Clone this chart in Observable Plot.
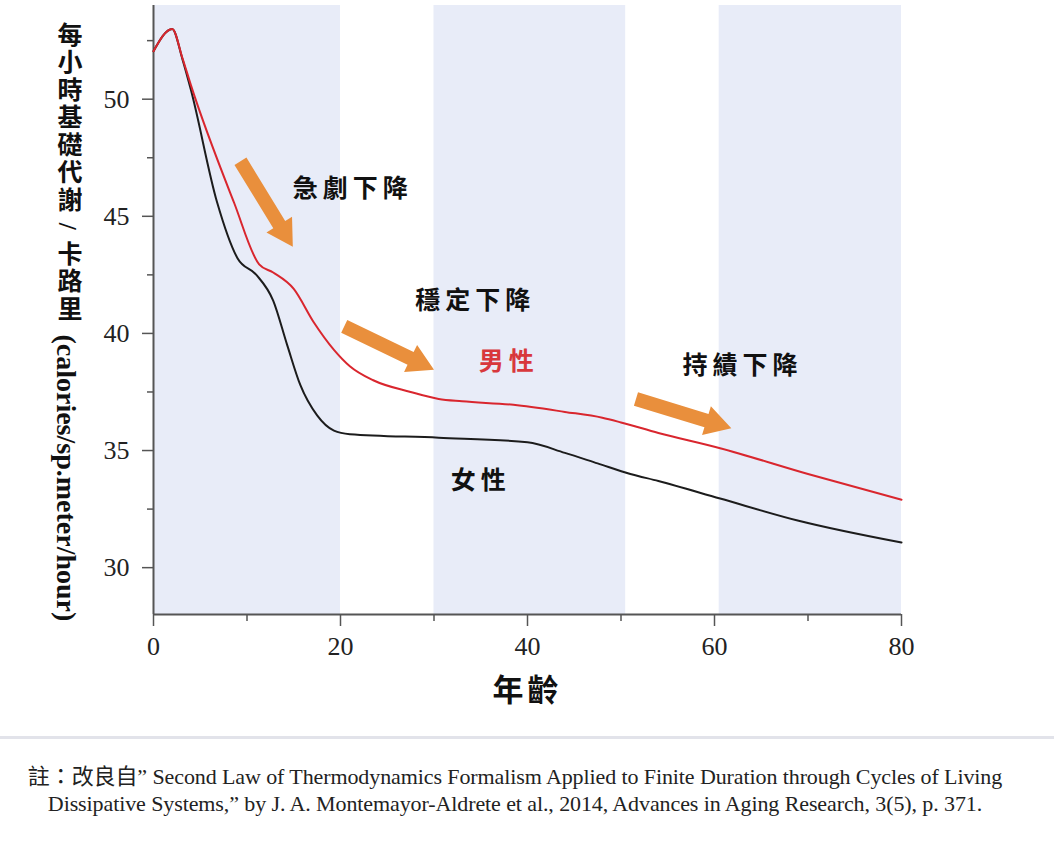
<!DOCTYPE html>
<html>
<head>
<meta charset="utf-8">
<script src="https://cdn.jsdelivr.net/npm/d3@7"></script>
<script src="https://cdn.jsdelivr.net/npm/@observablehq/plot@0.6"></script>
<style>
  html, body { margin: 0; padding: 0; background: #fff; }
  #chart { width: 1054px; }
  #sep { width: 1054px; height: 3px; background: #e2e3ea; }
  #note { width: 1054px; box-sizing: border-box; padding: 24px 24px 0 0; text-align: center;
          font-family: "Liberation Serif", "Noto Sans CJK TC", serif; font-size: 22px; line-height: 27px; color: #222; letter-spacing: -0.1px; }
</style>
</head>
<body>
<div id="chart"></div>
<div id="sep"></div>
<div id="note">註：改良自” Second Law of Thermodynamics Formalism Applied to Finite Duration through Cycles of Living<br>Dissipative Systems,” by J. A. Montemayor-Aldrete et al., 2014, Advances in Aging Research, 3(5), p. 371.</div>
<script>
// ---- data ----
const maleAge   = [0, 2, 3.1, 4, 8.6, 11.3, 12.8, 15, 17.1, 19.3, 21, 23.5, 27.5, 30.5, 33, 38.5, 44, 48, 50, 54, 60.6, 70, 80];
const maleBMR   = [52.05, 53.0, 51.75, 50.6, 45.6, 42.95, 42.6, 41.9, 40.5, 39.3, 38.6, 38.0, 37.5, 37.2, 37.1, 36.95, 36.65, 36.4, 36.2, 35.75, 35.1, 34.0, 32.9];
const femaleAge = [0, 2, 3.1, 4, 6.8, 9, 11, 12.8, 14.3, 15.7, 17.5, 19.3, 21, 30.5, 40, 44, 47.5, 51, 54, 60.6, 69, 80];
const femaleBMR = [52.05, 53.0, 51.7, 50.4, 45.6, 43.2, 42.5, 41.4, 39.5, 37.8, 36.5, 35.85, 35.7, 35.55, 35.35, 34.9, 34.45, 34.0, 33.7, 32.95, 32.0, 31.07];

const bandStart = [0, 30, 60.5];
const bandEnd   = [20, 50.5, 80];

const yMajorTicks = [30, 35, 40, 45, 50];
const yMinorTicks = [32.5, 37.5, 42.5, 47.5, 52.5];
const xMajorTicks = [0, 20, 40, 60, 80];
const xMinorTicks = [10, 30, 50, 70];

const noteText  = ["急劇下降", "穩定下降", "男性", "持績下降", "女性"];
const noteAge   = [21.3, 34.4, 38.0, 63.0, 35.0];
const noteValue = [46.15, 41.37, 38.8, 38.6, 33.7];
const noteColor = ["#111", "#111", "#d8383c", "#111", "#111"];

// arrows: tail (age, value) -> tip (age, value)
const arrowTailAge = [9.3, 20.4, 51.6];
const arrowTailVal = [47.35, 40.3, 37.2];
const arrowTipAge  = [14.9, 30.0, 61.8];
const arrowTipVal  = [43.7, 38.45, 35.95];

const xTitle = "年齡";
const yTitleCJK = "每小時基礎代謝 / 卡路里";
const yTitleEN = "(calories/sp.meter/hour)";

// ---- layout ----
const W = 1054, H = 736, ML = 153, MR = 153, MT = 5, MB = 122;
const xDomain = [0, 80], yDomain = [28, 54];
const kx = (W - ML - MR) / (xDomain[1] - xDomain[0]);
const ky = (H - MT - MB) / (yDomain[1] - yDomain[0]);

const male = maleAge.map((a, i) => ({age: a, v: maleBMR[i]}));
const female = femaleAge.map((a, i) => ({age: a, v: femaleBMR[i]}));
const bands = bandStart.map((s, i) => ({x1: s, x2: bandEnd[i]}));
const notes = noteText.map((t, i) => ({text: t, age: noteAge[i], v: noteValue[i], color: noteColor[i]}));

// arrow polygons built from the tail/tip arrays (shape in pixels, converted to data units)
const arrowPts = [];
arrowTailAge.forEach((ta, i) => {
  const tv = arrowTailVal[i];
  const dxp = (arrowTipAge[i] - ta) * kx, dyp = -(arrowTipVal[i] - tv) * ky;
  const len = Math.hypot(dxp, dyp);
  const ux = dxp / len, uy = dyp / len, nx = -uy, ny = ux;
  const hw = 7, hh = 15, hl = 26;
  const b = len - hl;
  const off = [
    [nx * hw, ny * hw],
    [ux * b + nx * hw, uy * b + ny * hw],
    [ux * b + nx * hh, uy * b + ny * hh],
    [ux * len, uy * len],
    [ux * b - nx * hh, uy * b - ny * hh],
    [ux * b - nx * hw, uy * b - ny * hw],
    [-nx * hw, -ny * hw]
  ];
  off.forEach(([ox, oy]) => arrowPts.push({id: i, age: ta + ox / kx, v: tv - oy / ky}));
});

const cjk = "'Noto Sans CJK TC', 'Noto Sans CJK SC', sans-serif";
const serif = "'Liberation Serif', 'Noto Sans CJK TC', serif";

const plot = Plot.plot({
  width: W, height: H,
  marginLeft: ML, marginRight: MR, marginTop: MT, marginBottom: MB,
  x: {domain: xDomain},
  y: {domain: yDomain},
  style: {fontFamily: serif, fontSize: "26px", color: "#222", background: "#fff", overflow: "visible"},
  marks: [
    Plot.rect(bands, {x1: "x1", x2: "x2", fill: "#e8ecf8"}),
    Plot.axisY({ticks: yMajorTicks, tickSize: 11, tickPadding: 13, label: null, fontSize: 26, stroke: "#555", strokeWidth: 1.5, fill: "#222"}),
    Plot.axisY({ticks: yMinorTicks, tickSize: 6, text: null, label: null, stroke: "#555", strokeWidth: 1.5}),
    Plot.axisX({ticks: xMajorTicks, tickSize: 12, tickPadding: 10, label: null, fontSize: 26, stroke: "#555", strokeWidth: 1.5, fill: "#222"}),
    Plot.axisX({ticks: xMinorTicks, tickSize: 7, text: null, label: null, stroke: "#555", strokeWidth: 1.5}),
    Plot.ruleX([0], {stroke: "#555", strokeWidth: 2}),
    Plot.ruleY([yDomain[0]], {stroke: "#555", strokeWidth: 2}),
    Plot.line(female, {x: "age", y: "v", stroke: "#1c1c1c", strokeWidth: 2, curve: "monotone-x"}),
    Plot.line(male, {x: "age", y: "v", stroke: "#d9262e", strokeWidth: 2, curve: "monotone-x"}),
    Plot.line(arrowPts, {x: "age", y: "v", z: "id", fill: "#e98f3c", stroke: "none", curve: "linear"}),
    Plot.text(notes, {x: "age", y: "v", text: "text", fill: "color", fontSize: 25, fontWeight: "bold", fontFamily: cjk}),
    Plot.text([xTitle], {frameAnchor: "bottom", dy: 86, fontSize: 31, fontWeight: "bold", fontFamily: cjk, fill: "#111"}),
    Plot.text([yTitleCJK], {frameAnchor: "top-left", dx: -86, dy: 8, textAnchor: "start", lineAnchor: "middle", fontSize: 25, fontWeight: "bold", fontFamily: serif, fill: "#111"}),
    Plot.text([yTitleEN], {frameAnchor: "top-left", dx: -87, dy: 320, textAnchor: "start", lineAnchor: "middle", fontSize: 28, fontWeight: "bold", fontFamily: serif, fill: "#111"})
  ]
});

const sel = d3.select(plot);
const byText = (t) => sel.selectAll("text").filter(function () { return this.textContent === t; });
[yTitleCJK, yTitleEN].forEach(t => byText(t)
  .attr("writing-mode", "vertical-rl")
  .style("writing-mode", "vertical-rl")
  .style("text-orientation", "mixed")
  .attr("dy", null));
byText(yTitleCJK).style("letter-spacing", "2.5px");
noteText.forEach(t => byText(t).style("letter-spacing", "5px"));
byText(xTitle).style("letter-spacing", "4px");

document.getElementById("chart").appendChild(plot);
</script>
</body>
</html>
